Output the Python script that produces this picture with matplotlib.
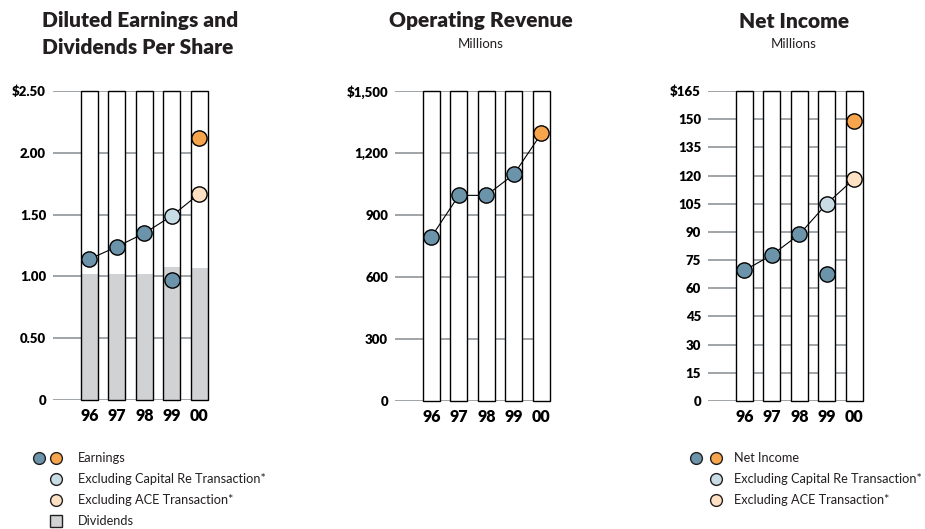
import numpy as np
import matplotlib.pyplot as plt

plt.rcParams['font.family'] = ['Lato', 'DejaVu Sans']

# === data ===
years = ['96', '97', '98', '99', '00']

dividends = [1.02, 1.02, 1.02, 1.08, 1.07]
eps = [1.14, 1.24, 1.35, 0.97, 2.12]
eps_ex_capre = 1.49   # 99
eps_ex_ace = 1.67     # 00

revenue = [794, 995, 995, 1097, 1295]

net_income = [69.5, 77.7, 88.7, 67.7, 148.8]
ni_ex_capre = 105.1   # 99
ni_ex_ace = 118.4     # 00

eps_ticks = [0, 0.5, 1.0, 1.5, 2.0, 2.5]
eps_ticklabels = ['0', '0.50', '1.00', '1.50', '2.00', '$2.50']
rev_ticks = [0, 300, 600, 900, 1200, 1500]
rev_ticklabels = ['0', '300', '600', '900', '1,200', '$1,500']
ni_ticks = list(range(0, 166, 15))
ni_ticklabels = [str(v) for v in ni_ticks[:-1]] + ['$165']

# === style ===
C_DARK = '#6b93a9'
C_ORANGE = '#f6a54c'
C_LIGHT = '#c8dce5'
C_PEACH = '#fde1c2'
C_DIV = '#d1d2d4'
C_GRID = '#9fa4a8'
MS = 11

W, H = 925, 529
fig = plt.figure(figsize=(W / 100, H / 100), dpi=100)


def px_axes(left, top, right, bottom):
    return fig.add_axes([left / W, 1 - bottom / H, (right - left) / W, (bottom - top) / H])


def setup(ax, top, ticks, ticklabels):
    x = np.arange(len(years))
    ax.set_xlim(-1.32, 4.31)
    ax.set_ylim(0, top)
    for t in ticks:
        ax.axhline(t, color=C_GRID, lw=1.4, zorder=0)
    ax.bar(x, [top] * len(x), width=0.62, color='white', edgecolor='none', zorder=1)
    ax.set_yticks(ticks)
    ax.set_yticklabels(ticklabels, fontsize=9.5, fontweight='heavy')
    ax.set_xticks(x)
    ax.set_xticklabels(years, fontsize=11.5, fontweight='heavy')
    ax.tick_params(length=0, pad=5)
    ax.tick_params(axis='x', pad=6)
    for s in ax.spines.values():
        s.set_visible(False)
    ax.patch.set_alpha(0)
    return x


def outline(ax, x, top):
    bars = ax.bar(x, [top] * len(x), width=0.62, facecolor='none', edgecolor='black', lw=1.0, zorder=3)
    for b in bars:
        b.set_clip_on(False)


def dot(ax, xs, ys, color):
    ax.plot(xs, ys, 'o', ms=MS, mfc=color, mec='black', mew=1.0, zorder=6, clip_on=False)


# --- panel 1: EPS & dividends ---
ax1 = px_axes(53, 91, 208, 400)
x = setup(ax1, 2.5, eps_ticks, eps_ticklabels)
ax1.bar(x, dividends, width=0.62, color=C_DIV, edgecolor='none', zorder=2)
outline(ax1, x, 2.5)
ax1.plot(list(x[:3]) + [3, 4], eps[:3] + [eps_ex_capre, eps_ex_ace], color='black', lw=0.8, zorder=5)
dot(ax1, x[:4], eps[:4], C_DARK)
dot(ax1, [4], [eps[4]], C_ORANGE)
dot(ax1, [3], [eps_ex_capre], C_LIGHT)
dot(ax1, [4], [eps_ex_ace], C_PEACH)

# --- panel 2: operating revenue ---
ax2 = px_axes(395, 91, 550, 401)
x = setup(ax2, 1500, rev_ticks, rev_ticklabels)
outline(ax2, x, 1500)
ax2.plot(x, revenue, color='black', lw=0.8, zorder=5)
dot(ax2, x[:4], revenue[:4], C_DARK)
dot(ax2, [4], [revenue[4]], C_ORANGE)

# --- panel 3: net income ---
ax3 = px_axes(708, 91, 863, 401)
x = setup(ax3, 165, ni_ticks, ni_ticklabels)
outline(ax3, x, 165)
ax3.plot(list(x[:3]) + [3, 4], net_income[:3] + [ni_ex_capre, ni_ex_ace], color='black', lw=0.8, zorder=5)
dot(ax3, x[:4], net_income[:4], C_DARK)
dot(ax3, [4], [net_income[4]], C_ORANGE)
dot(ax3, [3], [ni_ex_capre], C_LIGHT)
dot(ax3, [4], [ni_ex_ace], C_PEACH)

# --- titles and legends on an overlay in pixel coords ---
ov = fig.add_axes([0, 0, 1, 1])
ov.set_xlim(0, W)
ov.set_ylim(H, 0)
ov.axis('off')

tkw = dict(fontsize=15, fontweight='heavy', color='#231f20', va='center')
ov.text(42, 21, 'Diluted Earnings and', ha='left', **tkw)
ov.text(42, 48, 'Dividends Per Share', ha='left', **tkw)
ov.text(481, 21, 'Operating Revenue', ha='center', **tkw)
ov.text(481, 44, 'Millions', ha='center', va='center', fontsize=9.5, color='#231f20')
ov.text(794, 21, 'Net Income', ha='center', **tkw)
ov.text(794, 44, 'Millions', ha='center', va='center', fontsize=9.5, color='#231f20')

lkw = dict(ha='left', va='center', fontsize=9.2, color='#231f20')
lm = dict(marker='o', ms=8.5, mec='#231f20', mew=1.0, ls='none')
ov.plot([39], [458], mfc=C_DARK, **lm)
ov.plot([56], [458], mfc=C_ORANGE, **lm)
ov.plot([56], [479], mfc=C_LIGHT, **lm)
ov.plot([56], [500], mfc=C_PEACH, **lm)
ov.plot([56], [521], marker='s', ms=8, mfc=C_DIV, mec='#231f20', mew=1.0, ls='none')
ov.text(78, 458, 'Earnings', **lkw)
ov.text(78, 479, 'Excluding Capital Re Transaction*', **lkw)
ov.text(78, 500, 'Excluding ACE Transaction*', **lkw)
ov.text(78, 521, 'Dividends', **lkw)

ov.plot([696], [458], mfc=C_DARK, **lm)
ov.plot([716], [458], mfc=C_ORANGE, **lm)
ov.plot([716], [479], mfc=C_LIGHT, **lm)
ov.plot([716], [500], mfc=C_PEACH, **lm)
ov.text(734, 458, 'Net Income', **lkw)
ov.text(734, 479, 'Excluding Capital Re Transaction*', **lkw)
ov.text(734, 500, 'Excluding ACE Transaction*', **lkw)

fig.savefig('out.png', dpi=100)
